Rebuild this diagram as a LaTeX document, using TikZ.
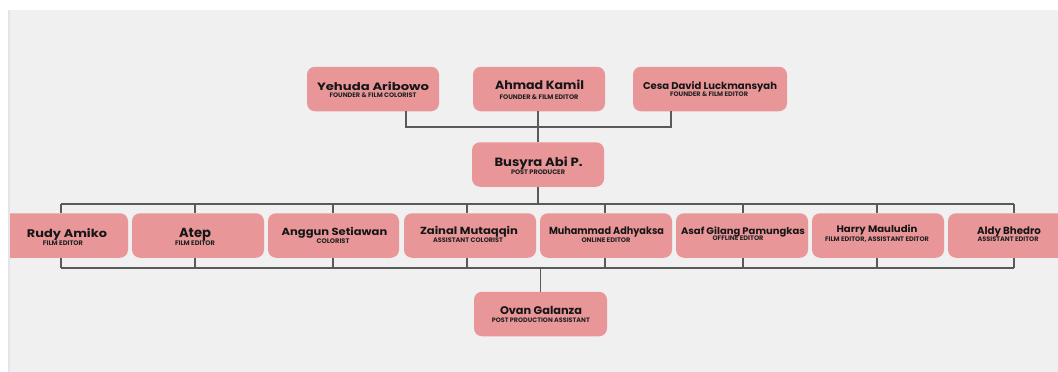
\documentclass[tikz,border=0pt]{standalone}
\usepackage{graphicx}
\usepackage{fontspec}
\setmainfont{Poppins}
\definecolor{bgc}{HTML}{F0F0F0}
\definecolor{edgec}{HTML}{E4E4EA}
\definecolor{boxc}{HTML}{E89698}
\definecolor{linec}{HTML}{5A5A5A}
\definecolor{txtc}{HTML}{161616}
\newcommand{\fitw}[2]{\resizebox{#1pt}{!}{\fontsize{12}{14}\selectfont\bfseries #2}}
\newcommand{\fitwh}[3]{\resizebox{#1pt}{#2pt}{\fontsize{12}{14}\selectfont\bfseries #3}}
\tikzset{
  personbox/.style={fill=boxc, draw=none, rounded corners=8pt, minimum width=132pt,
    minimum height=44.5pt, inner sep=0pt},
  nametext/.style={anchor=base, inner sep=0pt, text=txtc},
  roletext/.style={anchor=base, inner sep=0pt, text=txtc!95!white},
  conn/.style={draw=linec, line width=1.2pt}
}
\begin{document}
\begin{tikzpicture}[x=1pt,y=-1pt]
\useasboundingbox (0,0) rectangle (1058,372);
\fill[white] (0,0) rectangle (1058,372);
\fill[bgc] (8,10) rectangle (1058,372);
\fill[edgec] (8,10) rectangle (9.5,372);
\begin{scope}
\clip (10,0) rectangle (1058,372);
\foreach \id/\bx/\by/\bw/\nx/\ny/\nw/\nh/\nm/\sx/\sy/\sw/\sb in {
  yehuda/373/89/132/373/90.7/112/8.5/{Yehuda Aribowo}/373/97.3/87/{FOUNDER \& FILM COLORIST},
  ahmad/539/89/132/539.5/89.3/89/9.5/{Ahmad Kamil}/539/99/79/{FOUNDER \& FILM EDITOR},
  cesa/710/89/154/710/89/134/7.9/{Cesa David Luckmansyah}/709/96.7/78/{FOUNDER \& FILM EDITOR},
  busyra/538/164.5/132/538.5/166.7/88/9.6/{Busyra Abi P.}/538/174.7/54/{POST PRODUCER},
  rudy/64/235.5/128/67/237/80/8.9/{Rudy Amiko}/63/245/40/{FILM EDITOR},
  atep/198/235.5/132/195/237/32/9.2/{Atep}/195/245/40/{FILM EDITOR},
  anggun/333.5/235.5/131/334.5/235/105.6/8.2/{Anggun Setiawan}/333/243.7/33/{COLORIST},
  zainal/470/235.5/132/469/234/98/8.2/{Zainal Mutaqqin}/468/242/70/{ASSISTANT COLORIST},
  muhammad/606/235.5/132/606.5/234/115/7.6/{Muhammad Adhyaksa}/606/242/49/{ONLINE EDITOR},
  asaf/742/235.5/132/743/234/124/7.6/{Asaf Gilang Pamungkas}/738/240.7/51/{OFFLINE EDITOR},
  harry/878/235.5/132/877/232.7/81/7.6/{Harry Mauludin}/877/241.3/104/{FILM EDITOR, ASSISTANT EDITOR},
  aldy/1014/235.5/132/1009/234/64/7.6/{Aldy Bhedro}/1008/241/61/{ASSISTANT EDITOR},
  ovan/540.5/314/133/541/314/82/8.2/{Ovan Galanza}/540.8/322/98/{POST PRODUCTION ASSISTANT}}{
  \node[personbox, minimum width=\bw pt] (\id) at (\bx,\by) {};
  \node[nametext] (\id-name) at (\nx,\ny) {\fitwh{\nw}{\nh}{\nm}};
  \node[roletext] (\id-role) at (\sx,\sy) {\fitw{\sw}{\sb}};
}
\end{scope}
% founders bus
\coordinate (fl) at (406,127);
\coordinate (fr) at (671,127);
\draw[conn] (yehuda.south -| fl) -- (fl) -- (fr) -- (cesa.south -| fr);
\draw[conn] (ahmad.south -| busyra.north) -- (busyra.north);
% buses
\coordinate (tl) at (61,204);
\coordinate (tr) at (1014,204);
\coordinate (bl) at (61,268);
\coordinate (br) at (1014,268);
\draw[conn] (tl) -- (tr);
\draw[conn] (bl) -- (br);
\draw[conn] (busyra.south) -- (busyra.south |- tl);
\draw[conn] (ovan.north) -- (ovan.north |- bl);
\foreach \n/\x in {rudy/61, atep/195, anggun/333, zainal/467, muhammad/605, asaf/743, harry/877, aldy/1014}{
  \coordinate (\n T) at (\x,204);
  \coordinate (\n B) at (\x,268);
  \draw[conn] (\n T) -- (\n T |- \n.north);
  \draw[conn] (\n B) -- (\n B |- \n.south);
}
\end{tikzpicture}
\end{document}
